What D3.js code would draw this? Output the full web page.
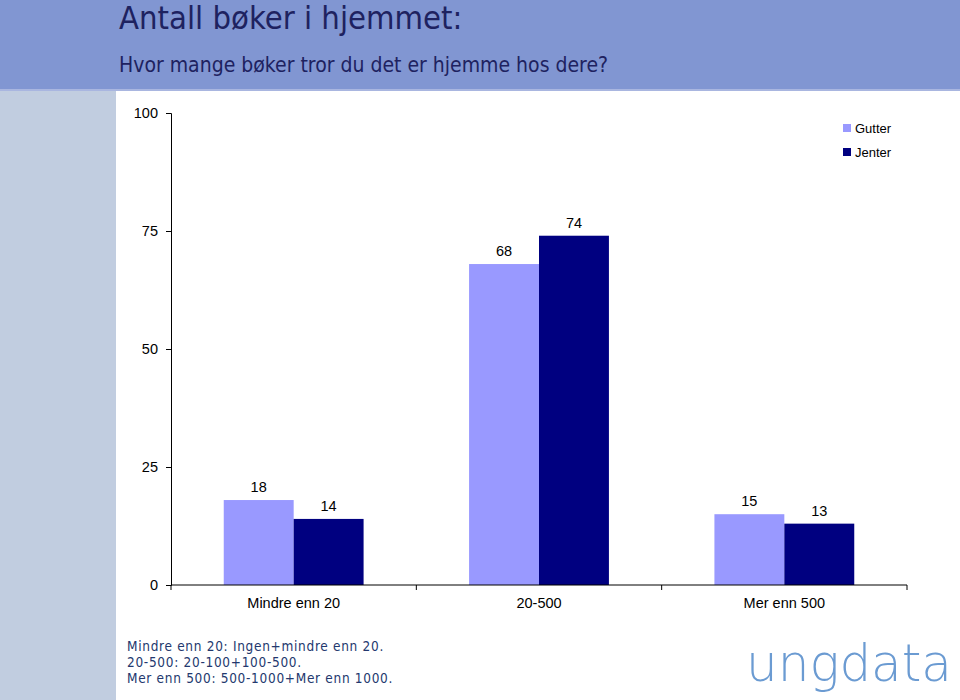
<!DOCTYPE html>
<html>
<head>
<meta charset="utf-8">
<script src="https://cdnjs.cloudflare.com/ajax/libs/d3/7.8.5/d3.min.js"></script>
<style>
  body { margin: 0; background: #fff; }
  svg { display: block; }
</style>
</head>
<body>
<script>
let w = 960;
let h = 700;

var categories = ["Mindre enn 20", "20-500", "Mer enn 500"];
var series = ["Gutter", "Jenter"];
var gutter = [18, 68, 15];
var jenter = [14, 74, 13];
var yTicks = [0, 25, 50, 75, 100];
var notes = ["Mindre enn 20: Ingen+mindre enn 20.", "20-500: 20-100+100-500.", "Mer enn 500: 500-1000+Mer enn 1000."];

var colors = {Gutter: "#9999ff", Jenter: "#000080"};
var titleFont = "'DejaVu Sans Condensed', Tahoma, sans-serif";
var chartFont = "Arial, 'Liberation Sans', sans-serif";

let svg = d3.select("body").append("svg").attr("width", w).attr("height", h);

// background bands
svg.append("rect").attr("x", 0).attr("y", 0).attr("width", w).attr("height", 90).attr("fill", "#8196d2");
svg.append("rect").attr("x", 0).attr("y", 89).attr("width", w).attr("height", 2).attr("fill", "#a9b6e0");
svg.append("rect").attr("x", 0).attr("y", 91).attr("width", 116).attr("height", h - 91).attr("fill", "#c1cde0");

// titles
svg.append("text")
    .text("Antall bøker i hjemmet:")
    .attr("x", 119).attr("y", 29)
    .style("font-family", titleFont)
    .style("font-size", "32.5px")
    .attr("fill", "#1e2260");
svg.append("text")
    .text("Hvor mange bøker tror du det er hjemme hos dere?")
    .attr("x", 119).attr("y", 72)
    .style("font-family", titleFont)
    .style("font-size", "21px")
    .attr("fill", "#1e2260");

// chart
let x0 = d3.scaleBand().domain(categories).range([171, 907]).paddingInner(0.43).paddingOuter(0.215);
let x1 = d3.scaleBand().domain(series).range([0, x0.bandwidth()]);
let xOuter = d3.scaleBand().domain(categories).range([171, 907]);
let y = d3.scaleLinear().domain([0, 100]).range([585, 113]);

var rows = categories.map(function(c, i) {
    return {cat: c, values: [{key: "Gutter", v: gutter[i]}, {key: "Jenter", v: jenter[i]}]};
});

let groups = svg.selectAll("g.grp").data(rows).enter().append("g")
    .attr("class", "grp")
    .attr("transform", function(d) { return "translate(" + x0(d.cat) + ",0)"; });

groups.selectAll("rect").data(function(d) { return d.values; }).enter().append("rect")
    .attr("x", function(d) { return x1(d.key); })
    .attr("y", function(d) { return y(d.v); })
    .attr("width", x1.bandwidth())
    .attr("height", function(d) { return y(0) - y(d.v); })
    .attr("fill", function(d) { return colors[d.key]; });

groups.selectAll("text").data(function(d) { return d.values; }).enter().append("text")
    .attr("x", function(d) { return x1(d.key) + x1.bandwidth() / 2; })
    .attr("y", function(d) { return y(d.v) - 8; })
    .attr("text-anchor", "middle")
    .style("font-family", chartFont)
    .style("font-size", "14.5px")
    .text(function(d) { return d.v; });

// y axis
let yAxis = d3.axisLeft(y).tickValues(yTicks).tickSize(5).tickPadding(8);
let gy = svg.append("g").attr("transform", "translate(171,0)").call(yAxis);
gy.selectAll("text").style("font-family", chartFont).style("font-size", "14.5px").attr("fill", "#000");
gy.select(".domain").attr("stroke", "#000");

// x axis with ticks at category boundaries
let xAxisG = svg.append("g").attr("transform", "translate(0,585)");
xAxisG.append("line").attr("x1", 171).attr("x2", 907).attr("stroke", "#000");
var bounds = categories.map(function(c) { return xOuter(c); }).concat([xOuter.range()[1]]);
xAxisG.selectAll("line.tk").data(bounds).enter().append("line")
    .attr("class", "tk")
    .attr("x1", function(d) { return d; }).attr("x2", function(d) { return d; })
    .attr("y1", 0).attr("y2", 5).attr("stroke", "#000");
xAxisG.selectAll("text").data(categories).enter().append("text")
    .attr("x", function(d) { return xOuter(d) + xOuter.bandwidth() / 2; })
    .attr("y", 23)
    .attr("text-anchor", "middle")
    .style("font-family", chartFont)
    .style("font-size", "14.5px")
    .text(function(d) { return d; });

// legend
let legend = svg.selectAll("g.leg").data(series).enter().append("g")
    .attr("class", "leg")
    .attr("transform", function(d, i) { return "translate(843," + (124 + i * 24) + ")"; });
legend.append("rect").attr("width", 8).attr("height", 8).attr("fill", function(d) { return colors[d]; });
legend.append("text").attr("x", 12).attr("y", 8.5)
    .style("font-family", chartFont)
    .style("font-size", "13px")
    .text(function(d) { return d; });

// footnotes
svg.selectAll("text.note").data(notes).enter().append("text")
    .attr("class", "note")
    .attr("x", 127)
    .attr("y", function(d, i) { return 651 + i * 16; })
    .style("font-family", titleFont)
    .style("font-size", "13.5px")
    .style("letter-spacing", "0.7px")
    .attr("fill", "#23386e")
    .text(function(d) { return d; });

// logo
svg.append("text")
    .text("ungdata")
    .attr("x", 746).attr("y", 681)
    .attr("textLength", 206)
    .attr("lengthAdjust", "spacingAndGlyphs")
    .style("font-family", "'DejaVu Sans', sans-serif")
    .style("font-weight", 200)
    .style("font-size", "52px")
    .attr("fill", "#6b9bd2");
</script>
</body>
</html>
